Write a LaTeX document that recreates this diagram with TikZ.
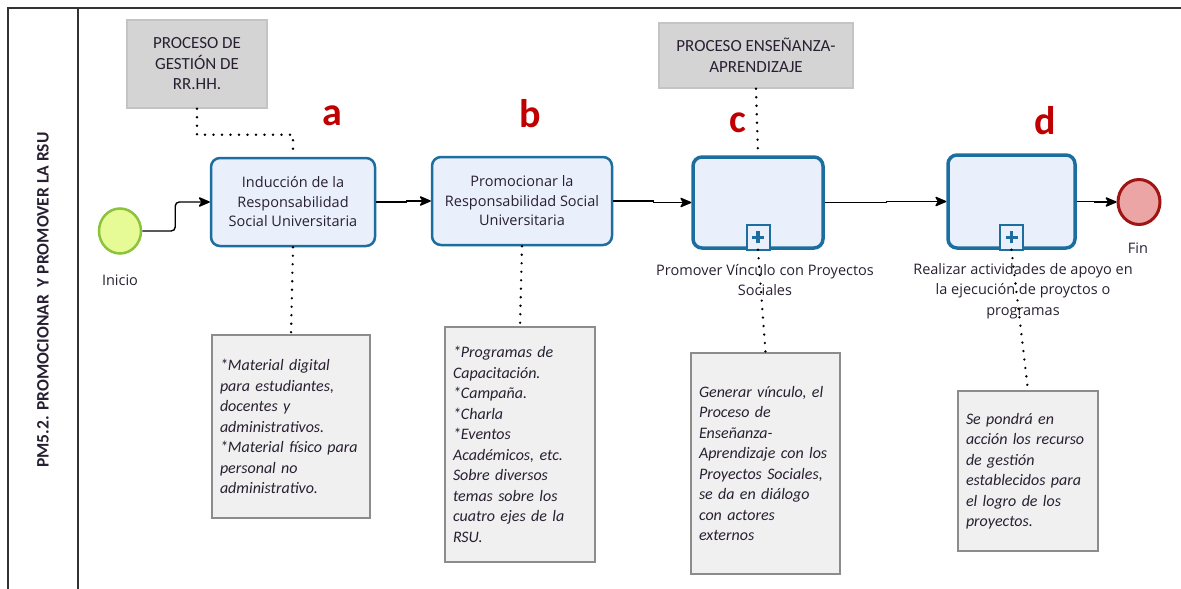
\documentclass[tikz,border=0pt]{standalone}
\usepackage{fontspec}
\setmainfont{Carlito}
\newfontfamily\osans{Open Sans}
\usetikzlibrary{arrows.meta,shapes.geometric}
\definecolor{taskblue}{RGB}{28,110,158}
\definecolor{taskfill}{RGB}{234,239,252}
\definecolor{grayfill}{RGB}{212,212,212}
\definecolor{graydraw}{RGB}{196,196,196}
\definecolor{annofill}{RGB}{240,240,240}
\definecolor{annodraw}{RGB}{140,140,140}
\definecolor{startfill}{RGB}{230,250,150}
\definecolor{startdraw}{RGB}{140,195,60}
\definecolor{endfill}{RGB}{235,165,165}
\definecolor{enddraw}{RGB}{160,20,20}
\definecolor{letterred}{RGB}{192,0,0}
\definecolor{txt}{RGB}{40,32,50}
\definecolor{frame}{RGB}{50,50,50}
\begin{document}
\begin{tikzpicture}[x=1pt,y=-1pt,
  taskbox/.style={draw=taskblue, line width=2.5pt, fill=taskfill, rounded corners=9pt,
    inner sep=0pt, align=center, text=txt, font=\osans\fontsize{14.5}{19.5}\selectfont},
  subbox/.style={taskbox, line width=3.5pt},
  plusbox/.style={draw=taskblue, line width=2pt, fill=taskfill, inner sep=0pt,
    minimum width=23pt, minimum height=25pt},
  refbox/.style={draw=graydraw, line width=1.5pt, fill=grayfill, inner sep=0pt, align=center,
    text=txt, font=\fontsize{17}{20.5}\selectfont},
  annobox/.style={draw=annodraw, line width=1.5pt, fill=annofill, inner xsep=8pt, inner ysep=0pt,
    align=left, text=txt, font=\itshape\fontsize{16}{20.5}\selectfont},
  lbl/.style={align=center, text=txt, inner sep=0pt, font=\osans\fontsize{14.5}{20.5}\selectfont},
  letter/.style={anchor=base, text=letterred, inner sep=0pt, font=\bfseries\fontsize{40}{40}\selectfont},
  flow/.style={draw=black, line width=1.4pt,
    -{Stealth[length=13pt,width=11pt,inset=3.5pt,round]}},
  assoc/.style={draw=black, line width=2.6pt, dash pattern=on 0pt off 8.5pt, line cap=round},
]
\useasboundingbox (0,0) rectangle (1181,589);
% frame
\draw[frame, line width=2pt] (8,589) -- (8,8) -- (1181,8);
\draw[frame, line width=2pt] (78,8) -- (78,589);
\node[rotate=90, text=txt, inner sep=0pt, font=\bfseries\fontsize{17.5}{20}\selectfont] (lane) at (43,300)
  {PM5.2. PROMOCIONAR\ \ Y PROMOVER LA RSU};

% reference boxes
\node[refbox, minimum width=140pt, minimum height=88pt] (g1) at (197,64)
  {PROCESO DE\\GESTIÓN DE\\RR.HH.};
\node[refbox, minimum width=194pt, minimum height=65pt] (g2) at (756,55.5)
  {PROCESO ENSEÑANZA-\\APRENDIZAJE};

% events
\node[ellipse, draw=startdraw, line width=2.5pt, fill=startfill, minimum width=42pt, minimum height=45pt, inner sep=0pt] (s) at (120,231) {};
\node[lbl] (slbl) at (120,280) {Inicio};
\node[ellipse, draw=enddraw, line width=3pt, fill=endfill, minimum width=42pt, minimum height=45pt, inner sep=0pt] (e) at (1139,202) {};
\node[lbl] (elbl) at (1138,248) {Fin};

% tasks
\node[taskbox, minimum width=164pt, minimum height=88pt] (t1) at (293,202)
  {Inducción de la\\Responsabilidad\\Social Universitaria};
\node[taskbox, minimum width=180pt, minimum height=88pt] (t2) at (522,201)
  {Promocionar la\\Responsabilidad Social\\Universitaria};
\node[subbox, minimum width=130pt, minimum height=91pt] (t3) at (758,202.5) {};
\node[subbox, minimum width=127pt, minimum height=93pt] (t4) at (1011.5,201.5) {};

% plus markers
\node[plusbox] (p3) at ([yshift=12.5pt]t3.south) {};
\draw[taskblue, line width=3.5pt] ([xshift=-6pt]p3.center) -- ([xshift=6pt]p3.center)
  ([yshift=-6pt]p3.center) -- ([yshift=6pt]p3.center);
\node[plusbox] (p4) at ([yshift=12.5pt]t4.south) {};
\draw[taskblue, line width=3.5pt] ([xshift=-6pt]p4.center) -- ([xshift=6pt]p4.center)
  ([yshift=-6pt]p4.center) -- ([yshift=6pt]p4.center);

% subprocess labels
\node[lbl] (t3lbl) at (765,280) {Promover Vínculo con Proyectos\\Sociales};
\node[lbl] (t4lbl) at (1023,291) {Realizar actividades de apoyo en\\la ejecución de proyctos o\\programas};

% letters
\node[letter] (la) at (332,125) {a};
\node[letter] (lb) at (530,127) {b};
\node[letter] (lc) at (738,132) {c};
\node[letter] (ld) at (1045,134) {d};

% annotations
\node[annobox, text width=142pt, minimum height=183pt] (a1) at (291,426.5)
  {*Material digital\\para estudiantes,\\docentes y\\administrativos.\\{}*Material físico para\\personal no\\administrativo.};
\node[annobox, text width=134pt, minimum height=235pt] (a2) at (520,444.5)
  {*Programas de\\Capacitación.\\{}*Campaña.\\{}*Charla\\{}*Eventos\\Académicos, etc.\\Sobre diversos\\temas sobre los\\cuatro ejes de la\\RSU.};
\node[annobox, text width=133pt, minimum height=221pt] (a3) at (765.5,463.5)
  {Generar vínculo, el\\Proceso de\\Enseñanza-\\Aprendizaje con los\\Proyectos Sociales,\\se da en diálogo\\con actores\\externos};
\node[annobox, text width=124pt, minimum height=160pt] (a4) at (1028,471)
  {Se pondrá en\\acción los recurso\\de gestión\\establecidos para\\el logro de los\\proyectos.};

% sequence flows
\draw[flow, rounded corners=4pt] (s.east) -- ++(33,0) |- (t1.west);
\draw[flow] (t1.east) -- ++(30,0) |- (t2.west);
\draw[flow] (t2.east) -- ++(40,0) |- (t3.west);
\draw[flow] (t3.east) -- ++(62,0) |- (t4.west);
\draw[flow] (t4.east) -- ++(18,0) |- (e.west);

% associations
\draw[assoc] (g1.south) |- ([yshift=22pt]t1.north) -- (t1.north);
\draw[assoc] (g2.south) -- (t3.north);
\draw[assoc] (t1.south) -- (a1.north);
\draw[assoc] (t2.south) -- (a2.north);
\draw[assoc] (t3.south) -- (a3.north);
\draw[assoc] (t4.south) -- (a4.north);
\end{tikzpicture}
\end{document}
